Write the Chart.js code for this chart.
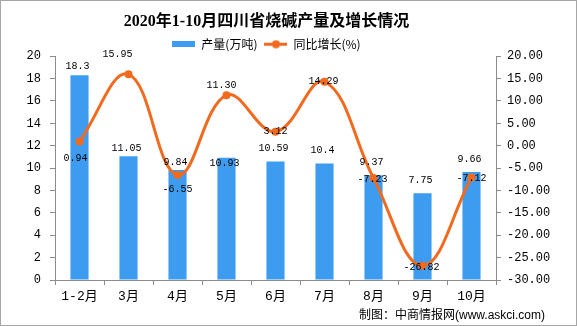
<!DOCTYPE html>
<html>
<head>
<meta charset="utf-8">
<script src="https://cdn.jsdelivr.net/npm/chart.js@4/dist/chart.umd.min.js"></script>
<style>
  html, body { margin: 0; padding: 0; background: #fff; }
</style>
</head>
<body>
<canvas id="chart" width="577" height="326"></canvas>
<script>
const months = ['1-2月', '3月', '4月', '5月', '6月', '7月', '8月', '9月', '10月'];
const output = [18.3, 11.05, 9.84, 10.93, 10.59, 10.4, 9.37, 7.75, 9.66];
const growth = [0.94, 15.95, -6.55, 11.30, 3.12, 14.29, -7.23, -26.82, -7.12];
const outputTicks = [0, 2, 4, 6, 8, 10, 12, 14, 16, 18, 20];
const growthTicks = [-30, -25, -20, -15, -10, -5, 0, 5, 10, 15, 20];

const barColor = '#3e9cf0';
const lineColor = '#f26a1e';
const axisColor = '#8c8c8c';
const monoFont = '"Liberation Mono", "Noto Sans CJK SC"';

// small legend markers
function barMarker() {
  const c = document.createElement('canvas');
  c.width = 23; c.height = 6;
  const g = c.getContext('2d');
  g.fillStyle = barColor;
  g.fillRect(0, 0, 23, 6);
  return c;
}
function lineMarker() {
  const c = document.createElement('canvas');
  c.width = 23; c.height = 9;
  const g = c.getContext('2d');
  g.strokeStyle = lineColor;
  g.lineWidth = 3;
  g.beginPath(); g.moveTo(0, 4.5); g.lineTo(23, 4.5); g.stroke();
  g.fillStyle = lineColor;
  g.beginPath(); g.arc(11.5, 4.5, 4, 0, Math.PI * 2); g.fill();
  return c;
}

const background = {
  id: 'background',
  afterLayout(chart) {
    // let the right axis labels run past the axis box
    chart.scales.y1._computeLabelArea = () => undefined;
  },
  beforeDraw(chart) {
    const ctx = chart.ctx;
    ctx.save();
    ctx.fillStyle = '#fff';
    ctx.fillRect(0, 0, chart.width, chart.height);
    ctx.strokeStyle = '#a6a6a6';
    ctx.lineWidth = 1;
    ctx.strokeRect(0.5, 0.5, chart.width - 1, chart.height - 1);
    ctx.restore();
  }
};

const footer = {
  id: 'footer',
  afterDraw(chart, args, opts) {
    const ctx = chart.ctx;
    ctx.save();
    ctx.font = '12px "Liberation Sans", "Noto Sans CJK SC"';
    ctx.fillStyle = '#000';
    ctx.textAlign = 'right';
    ctx.textBaseline = 'middle';
    ctx.fillText(opts.text, opts.x, opts.y);
    ctx.restore();
  }
};

const valueLabels = {
  id: 'valueLabels',
  afterDatasetsDraw(chart, args, opts) {
    const ctx = chart.ctx;
    ctx.save();
    ctx.font = '10px ' + monoFont;
    ctx.fillStyle = '#000';
    ctx.textAlign = 'center';
    ctx.textBaseline = 'middle';
    chart.getDatasetMeta(0).data.forEach((bar, i) => {
      ctx.fillText(String(output[i]), bar.x - 2, bar.y + opts.barOffsets[i]);
    });
    chart.getDatasetMeta(1).data.forEach((pt, i) => {
      const [dx, dy] = opts.lineOffsets[i];
      ctx.fillText(growth[i].toFixed(2), pt.x + dx, pt.y + dy);
    });
    ctx.restore();
  }
};

new Chart(document.getElementById('chart'), {
  data: {
    labels: months,
    datasets: [
      {
        type: 'bar',
        label: '产量(万吨)',
        data: output,
        backgroundColor: barColor,
        yAxisID: 'y',
        categoryPercentage: 1,
        barPercentage: 0.37,
        order: 2
      },
      {
        type: 'line',
        label: '同比增长(%)',
        data: growth,
        borderColor: lineColor,
        backgroundColor: lineColor,
        borderWidth: 3,
        tension: 0.4,
        pointRadius: 4,
        pointBackgroundColor: lineColor,
        pointBorderWidth: 0,
        yAxisID: 'y1',
        order: 1
      }
    ]
  },
  options: {
    responsive: false,
    devicePixelRatio: 1,
    animation: false,
    layout: { padding: { left: 0, right: 44, top: 0, bottom: 20.4 } },
    plugins: {
      tooltip: { enabled: false },
      title: {
        display: true,
        text: '2020年1-10月四川省烧碱产量及增长情况',
        color: '#000',
        font: { family: '"Liberation Serif", "Noto Sans CJK SC"', size: 16, weight: 'bold' },
        padding: { top: 12, bottom: 0 }
      },
      legend: {
        display: true,
        maxHeight: 25,
        labels: {
          usePointStyle: true,
          pointStyleWidth: 23,
          padding: 7,
          color: '#000',
          font: { family: '"Noto Sans CJK SC"', size: 12 },
          generateLabels: () => [
            { text: '产量(万吨)', pointStyle: barMarker(), fillStyle: barColor, strokeStyle: barColor, lineWidth: 0, datasetIndex: 0, hidden: false },
            { text: '同比增长(%)', pointStyle: lineMarker(), fillStyle: lineColor, strokeStyle: lineColor, lineWidth: 0, datasetIndex: 1, hidden: false }
          ]
        }
      },
      footer: { text: '制图：中商情报网(www.askci.com)', x: 545, y: 316 },
      valueLabels: {
        barOffsets: [-9, -8, -8, 6, -13, -13, -13, -13, -13],
        lineOffsets: [[-4, 17], [-11, -20], [0, 14], [-5, -10], [0, 0], [-1, 0], [-1, 1], [-1, 2], [0, 1]]
      }
    },
    scales: {
      x: {
        offset: true,
        afterFit: s => { s.height = 25.6; },
        grid: { display: true, drawOnChartArea: false, offset: true, tickLength: 5, color: axisColor },
        border: { color: axisColor },
        ticks: { color: '#000', padding: 4, font: { family: monoFont, size: 13 } }
      },
      y: {
        position: 'left',
        min: 0,
        max: 20,
        afterFit: s => { s.width = 55; },
        afterBuildTicks: s => { s.ticks = outputTicks.map(v => ({ value: v })); },
        grid: { display: true, drawOnChartArea: false, tickLength: 5, color: axisColor },
        border: { color: axisColor },
        ticks: { color: '#000', padding: 9, font: { family: monoFont, size: 12 } }
      },
      y1: {
        position: 'right',
        min: -30,
        max: 20,
        afterFit: s => { s.width = 37; },
        afterBuildTicks: s => { s.ticks = growthTicks.map(v => ({ value: v })); },
        grid: { display: true, drawOnChartArea: false, tickLength: 5, color: axisColor },
        border: { color: axisColor },
        ticks: { color: '#000', padding: 6, font: { family: monoFont, size: 12 }, callback: v => v.toFixed(2) }
      }
    }
  },
  plugins: [background, footer, valueLabels]
});
</script>
</body>
</html>
